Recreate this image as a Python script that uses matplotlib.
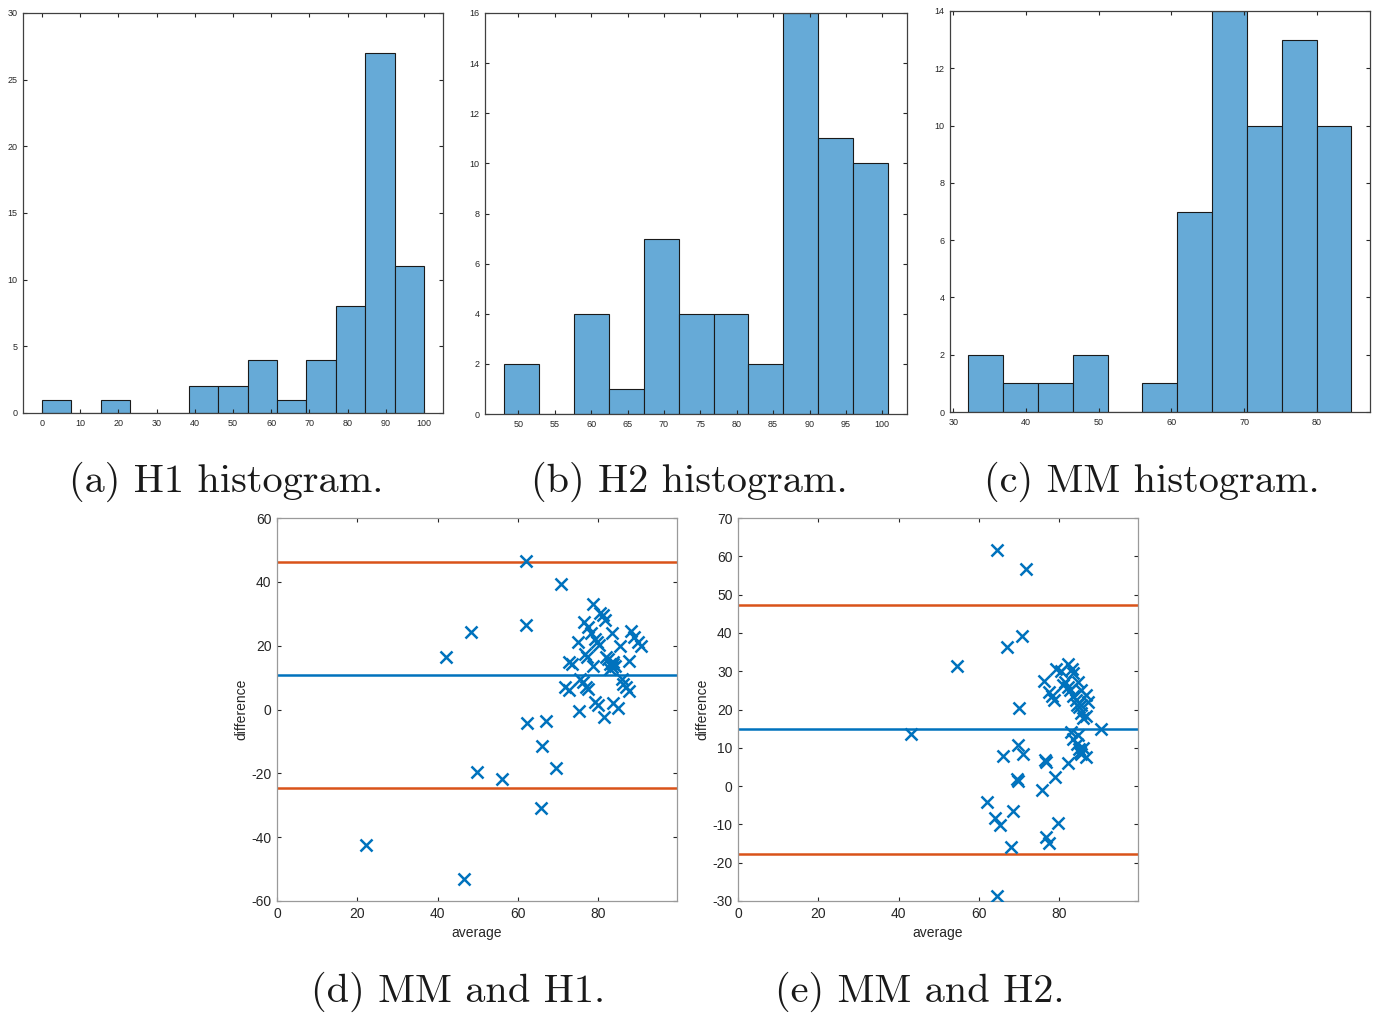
import numpy as np
import matplotlib
matplotlib.use("Agg")
import matplotlib.pyplot as plt

plt.rcParams['axes.unicode_minus'] = False
plt.rcParams['font.family'] = ['Liberation Sans', 'DejaVu Sans']

# ---------------- data ----------------
h1_edges = [0, 7.69, 15.38, 23.08, 30.77, 38.46, 46.15, 53.85, 61.54, 69.23, 76.92, 84.62, 92.31, 100]
h1_counts = [1, 0, 1, 0, 0, 2, 2, 4, 1, 4, 8, 27, 11]

h2_edges = [48.07, 52.86, 57.65, 62.44, 67.23, 72.02, 76.81, 81.60, 86.39, 91.18, 95.97, 100.76]
h2_counts = [2, 0, 4, 1, 7, 4, 4, 2, 16, 11, 10]

mm_edges = [32.06, 36.85, 41.64, 46.43, 51.22, 56.01, 60.80, 65.59, 70.38, 75.17, 79.96, 84.75]
mm_counts = [2, 1, 1, 2, 0, 1, 7, 14, 10, 13, 10]

d_avg = [62.0, 70.6, 78.8, 80.4, 81.1, 81.7, 76.5, 62.0, 77.4, 48.3, 78.2, 83.3, 88.1, 88.9,
         79.1, 74.9, 79.6, 90.0, 90.6, 80.3, 85.4, 42.1, 76.7, 77.1, 81.9, 82.5, 72.7, 73.4,
         83.6, 82.8, 83.3, 78.6, 87.7, 82.9, 75.5, 85.8, 76.1, 86.2, 71.7, 72.6, 76.9, 77.4,
         86.9, 87.7, 79.2, 80.0, 83.7, 85.0, 75.3, 81.4, 62.3, 66.9, 65.9, 69.4, 49.9, 56.1,
         65.7, 22.2, 46.6, 83.7, 84.2]
d_diff = [46.6, 39.2, 33.2, 30.1, 29.5, 28.0, 27.5, 26.6, 25.9, 24.2, 24.1, 24.1, 24.5, 22.8,
          22.2, 21.2, 21.2, 21.0, 19.9, 20.1, 19.9, 16.5, 17.5, 16.5, 16.5, 15.8, 14.9, 14.1,
          14.9, 14.1, 13.4, 13.7, 15.1, 12.8, 9.5, 9.5, 8.5, 8.1, 7.1, 6.1, 7.1, 6.3,
          7.1, 5.7, 2.4, 1.4, 2.1, 0.5, -0.5, -2.3, -4.2, -3.5, -11.4, -18.3, -19.7, -21.8,
          -31.0, -42.5, -53.1, 14.1, 13.6]
d_mean = 10.85
d_upper = 46.2
d_lower = -24.5

e_avg = [64.5, 71.8, 70.6, 66.9, 54.6, 82.2, 79.3, 80.4, 83.1, 83.5, 76.2, 81.4, 84.6, 82.2,
         77.5, 82.6, 85.4, 78.1, 78.7, 83.3, 86.6, 87.2, 84.3, 85.0, 70.0, 85.5, 86.0, 86.6,
         43.2, 82.9, 90.5, 83.3, 84.3, 69.8, 85.0, 85.8, 85.1, 71.0, 66.0, 86.6, 76.4, 76.8,
         82.1, 69.4, 69.8, 78.9, 75.6, 62.1, 64.0, 65.2, 68.4, 79.7, 76.7, 77.4, 67.9, 64.4,
         81.0, 84.1, 85.5, 84.6, 85.5]
e_diff = [61.7, 56.8, 39.2, 36.3, 31.3, 32.0, 30.7, 30.1, 30.7, 29.4, 27.5, 27.2, 27.2, 25.9,
          24.6, 25.0, 25.0, 23.6, 22.4, 23.5, 23.7, 22.0, 21.3, 20.7, 20.3, 19.0, 17.7, 18.3,
          13.7, 14.2, 14.8, 12.4, 11.1, 10.7, 9.8, 10.0, 8.8, 8.3, 7.9, 7.5, 6.8, 6.3,
          6.1, 1.8, 1.3, 2.3, -1.0, -4.1, -8.3, -10.2, -6.5, -9.7, -13.4, -14.8, -15.8, -28.6,
          26.3, 22.4, 21.1, 13.3, 8.5]
e_mean = 14.8
e_upper = 47.4
e_lower = -17.8

captions = ["(a) H1 histogram.", "(b) H2 histogram.", "(c) MM histogram.",
            "(d) MM and H1.", "(e) MM and H2."]

# ---------------- figure ----------------
W, H = 1379, 1014
fig = plt.figure(figsize=(W / 100, H / 100), dpi=100)

def px_axes(l, t, r, b):
    return fig.add_axes([l / W, 1 - b / H, (r - l) / W, (b - t) / H])

bar_face = '#66AAD7'
line_blue = '#0072BD'
line_red = '#D95319'

def style_axes(ax, fs, spine_c):
    ax.tick_params(direction='in', top=True, right=True, labelsize=fs,
                   length=3, width=0.8, colors='#262626', pad=4)
    for s in ax.spines.values():
        s.set_color(spine_c)
        s.set_linewidth(0.9)

def hist_panel(rect, edges, counts, xlim, ylim, xticks, yticks):
    ax = px_axes(*rect)
    e = np.array(edges)
    ax.bar(e[:-1], counts, width=np.diff(e), align='edge', color=bar_face,
           edgecolor='#1a1a1a', linewidth=0.8)
    ax.set_xlim(*xlim)
    ax.set_ylim(*ylim)
    ax.set_xticks(xticks)
    ax.set_yticks(yticks)
    style_axes(ax, 6.5, '#404040')
    return ax

hist_panel((23, 13, 443, 413), h1_edges, h1_counts, (-5, 105), (0, 30),
           range(0, 101, 10), range(0, 31, 5))
hist_panel((485, 13, 907, 414), h2_edges, h2_counts, (45.4, 103.4), (0, 16),
           range(50, 101, 5), range(0, 17, 2))
hist_panel((950, 11, 1370, 412), mm_edges, mm_counts, (29.54, 87.3), (0, 14),
           range(30, 81, 10), range(0, 15, 2))

def ba_panel(rect, avg, diff, mean, upper, lower, ylim, yticks):
    ax = px_axes(*rect)
    ax.axhline(upper, color=line_red, lw=1.8)
    ax.axhline(lower, color=line_red, lw=1.8)
    ax.axhline(mean, color=line_blue, lw=1.8)
    ax.scatter(avg, diff, marker='x', s=75, color=line_blue, linewidths=1.8, zorder=3)
    ax.set_xlim(0, 99.6)
    ax.set_ylim(*ylim)
    ax.set_xticks(range(0, 81, 20))
    ax.set_yticks(yticks)
    style_axes(ax, 10, '#9a9a9a')
    ax.set_xlabel('average', fontsize=10, color='#262626', labelpad=4)
    ax.set_ylabel('difference', fontsize=10, color='#262626', labelpad=2)
    return ax

ba_panel((277, 518, 677, 901), d_avg, d_diff, d_mean, d_upper, d_lower,
         (-60, 60), range(-60, 61, 20))
ba_panel((738, 518, 1138, 901), e_avg, e_diff, e_mean, e_upper, e_lower,
         (-30, 70), range(-30, 71, 10))

cap_pos = [(226, 482), (689, 482), (1152, 482), (458, 992), (920, 992)]
for (cx, cy), txt in zip(cap_pos, captions):
    fig.text(cx / W, 1 - cy / H, txt, ha='center', va='center',
             fontsize=29, family=['cmr10', 'DejaVu Serif'], color='#1a1a1a')

fig.savefig('out.png', dpi=100)
